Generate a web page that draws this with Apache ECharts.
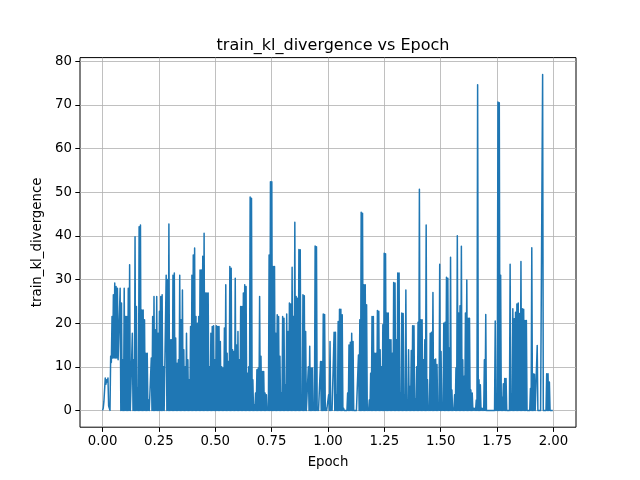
<!DOCTYPE html>
<html>
<head>
<meta charset="utf-8">
<script src="https://cdn.jsdelivr.net/npm/echarts@6/dist/echarts.min.js"></script>
<style>html,body{margin:0;padding:0;background:#fff;}#c{width:640px;height:480px;}</style>
</head>
<body>
<div id="c"></div>
<script>
// Logged train_kl_divergence readings, evenly spaced in epoch from 0.00 to 2.00
const kl = [
  // 0.00 - 0.32
  0,2,7.4,7,7.4,1,12.4,21.5,26.5,29.2,28.4,28,11.6,28,24.6,11.6,28,21.5,21.5,28,
  33.4,0,17.7,11.6,39.8,23.8,5,42.1,42.5,23,23,20.8,13.1,13.1,2.4,0,12,21.5,26.1,18.5,
  26.1,17.7,22.7,26.1,26.5,10,0,31,30,42.7,16.2,16.2,31,31.5,
  // 0.32 - 0.66
  16.6,10.8,11.6,31,20.8,27.6,13.9,10,17.7,11.6,7,19.2,31,35.6,37.2,21.5,20,21.5,32.2,32.2,
  35.3,40.6,26.9,26.9,26.9,10,17.7,19.2,19.4,11.6,19.4,19.2,19.2,15.8,10,9.7,18.9,28.8,13.1,
  11.2,33,32.6,13.9,13.5,30.3,15,18.1,11.6,23.8,23.8,26.9,28.8,28.4,8.5,10,48.9,48.6,
  // 0.67 - 1.00
  7,1.3,4,9.3,9.7,26.1,12.4,8.9,8.9,4,3.6,0.5,35.6,52.4,52.4,33,33,17.7,21.9,21.5,
  12.4,4,21.5,21.1,5.9,22.1,18.1,24.6,24.4,32.8,21.5,43.1,26.1,25.7,36.9,36.8,0.5,26.5,26.3,18.1,
  0,10,14.7,9.7,9.7,0.5,37.7,37.5,0.5,0,11.2,11.2,22.1,22,0.5,0,3.6,
  // 1.01 - 1.34
  15.8,0.5,0,17.9,17.9,3.4,20.4,23.2,23.2,21.9,0.5,0,0,4,15,15.6,17.7,15.8,0,0,
  0,12.7,20.8,45.4,45.2,28.8,28.8,24.2,0.5,2.4,8.5,21.5,21.5,13.1,13.1,22.9,22.7,13.9,10,19.6,
  36,35.9,22.3,22.3,16.2,16.2,13.1,29.3,29.2,16.2,31.5,31.5,4,22.3,22.2,3.6,27.6,
  // 1.35 - 1.68
  2.4,13.9,5.5,13.7,19.4,19.4,2.6,10,20.2,50.7,20.8,20.8,11.6,16.2,42.5,7,0.5,17.7,17.9,27,
  11.6,11.8,10.5,0.5,33.5,13.5,0.5,20,20.2,30.5,30.3,14.3,35.1,4.7,0.5,3.6,9.7,40,22.3,24,
  37.6,11.6,7.8,22.3,29.9,21.1,21.1,4.7,4,0.5,0.5,2.4,74.6,7,5.9,0.5,0.5,
  // 1.69 - 2.00
  11.6,22,0,0,0,0,0,0,20.5,1.5,70.7,70.5,31,3,6.1,7.3,7.3,0,0,33.5,
  3.8,23.3,21,22.5,24.4,24.6,22.2,34.1,23.3,23.2,20.6,20.6,0,0,5,37.3,8.4,8.3,0,14.9,
  0,0,0,77,0,0,8.4,8.4,6.5,0,0,0
];
// dips between consecutive readings at the very start; later dips reach the floor
const earlyTroughs = [0.5,2,6,6.5,1,0,11,12,12,12,12,11.6,11.6];
const floorValue = 0;
const xTicks = [0,0.25,0.5,0.75,1.0,1.25,1.5,1.75,2.0];
const yTicks = [0,10,20,30,40,50,60,70,80];
const epochStart = 0, epochEnd = 2.0;

const step = (epochEnd - epochStart) / (kl.length - 1);
const data = [];
for (let i = 0; i < kl.length; i++) {
  data.push([epochStart + i * step, kl[i]]);
  if (i < kl.length - 1) {
    const t = i < earlyTroughs.length ? earlyTroughs[i] : floorValue;
    data.push([epochStart + (i + 0.5) * step, t]);
  }
}
const ymax = Math.max.apply(null, kl);
const ymin = 0;
const ypad = (ymax - ymin) * 0.05;
const xpad = (epochEnd - epochStart) * 0.05;

const font = 'DejaVu Sans';
const chart = echarts.init(document.getElementById('c'), null, {renderer: 'canvas'});
chart.setOption({
  animation: false,
  backgroundColor: '#fff',
  title: {
    text: 'train_kl_divergence vs Epoch',
    left: 328, top: 33, textAlign: 'center',
    textStyle: {fontFamily: font, fontSize: 16, fontWeight: 'normal', color: '#000'}
  },
  grid: {
    left: 80, right: 64, top: 57.6, bottom: 52.8,
    show: true, borderColor: '#000', borderWidth: 1, backgroundColor: 'transparent',
    containLabel: false, outerBoundsMode: 'none'
  },
  xAxis: {
    type: 'value', min: epochStart - xpad, max: epochEnd + xpad,
    name: 'Epoch', nameLocation: 'middle', nameGap: 29,
    nameTextStyle: {fontFamily: font, fontSize: 13.3, color: '#000'},
    axisLine: {show: false, onZero: false},
    axisTick: {show: true, length: 4.7, lineStyle: {color: '#000', width: 1}, customValues: xTicks},
    axisLabel: {customValues: xTicks, margin: 8, fontFamily: font, fontSize: 13.3, color: '#000',
      formatter: v => v.toFixed(2)},
    splitLine: {show: true, lineStyle: {color: '#b0b0b0', width: 0.8}}
  },
  yAxis: {
    type: 'value', min: ymin - ypad, max: ymax + ypad,
    name: 'train_kl_divergence', nameLocation: 'middle', nameGap: 33,
    nameTextStyle: {fontFamily: font, fontSize: 13.3, color: '#000'},
    axisLine: {show: false, onZero: false},
    axisTick: {show: true, length: 4.7, lineStyle: {color: '#000', width: 1}, customValues: yTicks},
    axisLabel: {customValues: yTicks, margin: 8, fontFamily: font, fontSize: 13.3, color: '#000',
      formatter: v => String(Math.round(v))},
    splitLine: {show: true, lineStyle: {color: '#b0b0b0', width: 0.8}}
  },
  series: [{
    type: 'line', data: data, showSymbol: false, symbol: 'none', sampling: null,
    lineStyle: {color: '#1f77b4', width: 1.5, join: 'round'},
    itemStyle: {color: '#1f77b4'}, z: 3, clip: true
  }]
});
</script>
</body>
</html>
